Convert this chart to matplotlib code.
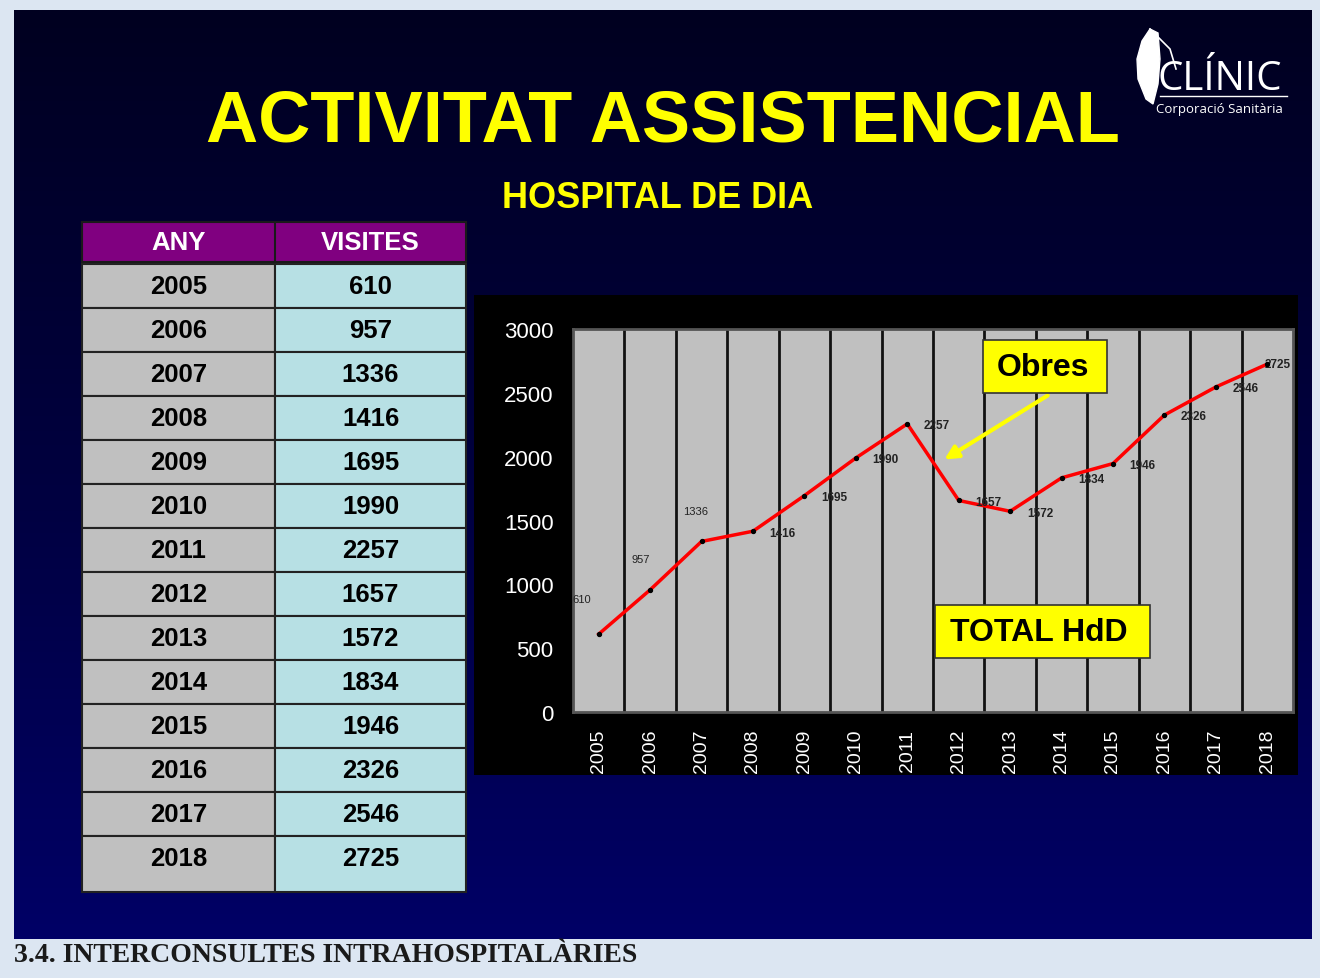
import numpy as np
import matplotlib.pyplot as plt
from matplotlib.patches import Rectangle, Polygon
from matplotlib.colors import LinearSegmentedColormap

plt.rcParams['font.family'] = ['Liberation Sans', 'DejaVu Sans']

# Dades
anys = ['2005', '2006', '2007', '2008', '2009', '2010', '2011',
        '2012', '2013', '2014', '2015', '2016', '2017', '2018']
visites = [610, 957, 1336, 1416, 1695, 1990, 2257,
           1657, 1572, 1834, 1946, 2326, 2546, 2725]
y_ticks = [0, 500, 1000, 1500, 2000, 2500, 3000]

W, H = 1320, 979
fig = plt.figure(figsize=(W / 100, H / 100), dpi=100)
fig.patch.set_facecolor('#dce6f2')


def pixel_axes(z):
    a = fig.add_axes([0, 0, 1, 1], zorder=z)
    a.set_xlim(0, W)
    a.set_ylim(H, 0)
    a.axis('off')
    a.patch.set_alpha(0)
    return a


# fons (coordenades en píxels)
bg = pixel_axes(0)
grad = np.linspace(0, 1, 256).reshape(-1, 1)
cmap = LinearSegmentedColormap.from_list('slide', ['#000020', '#00003f', '#000066'])
bg.imshow(grad, cmap=cmap, extent=[14, 1312, 940, 11], aspect='auto', zorder=0)

# títols
bg.text(663, 122, 'ACTIVITAT ASSISTENCIAL', color='#ffff00', fontsize=52,
        fontweight='bold', ha='center', va='center')
bg.text(658, 199, 'HOSPITAL DE DIA', color='#ffff00', fontsize=26,
        fontweight='bold', ha='center', va='center')

# logo
feather = Polygon([[1150, 30], [1158, 34], [1160, 60], [1158, 85], [1153, 105],
                   [1146, 100], [1138, 80], [1137, 60], [1142, 42]],
                  closed=True, facecolor='white', edgecolor='white', zorder=3)
bg.add_patch(feather)
bg.plot([1150, 1170, 1176], [30, 50, 70], color='white', lw=1.2)
bg.text(1158, 80, 'CLÍNIC', color='white', fontsize=29, ha='left', va='center',
        family=['Open Sans', 'DejaVu Sans'])
bg.plot([1160, 1287], [97, 97], color='white', lw=1)
bg.text(1156, 109, 'Corporació Sanitària', color='white', fontsize=9.5,
        ha='left', va='center', family=['Open Sans', 'DejaVu Sans'])

# taula
x0, xm, x1 = 82, 275, 466
bg.add_patch(Rectangle((x0, 223), x1 - x0, 40, facecolor='#800080',
                       edgecolor='#1a1a1a', lw=1.5, zorder=2))
bg.plot([xm, xm], [223, 263], color='#1a1a1a', lw=1.5, zorder=3)
bg.text((x0 + xm) / 2, 243, 'ANY', color='white', fontsize=18.5, fontweight='bold',
        ha='center', va='center', zorder=4)
bg.text((xm + x1) / 2, 243, 'VISITES', color='white', fontsize=18.5, fontweight='bold',
        ha='center', va='center', zorder=4)
top = 265
for i, (a, v) in enumerate(zip(anys, visites)):
    yt = top + i * 44
    h = 44 if i < len(anys) - 1 else 56
    bg.add_patch(Rectangle((x0, yt), xm - x0, h, facecolor='#c0c0c0',
                           edgecolor='#222222', lw=1.5, zorder=2))
    bg.add_patch(Rectangle((xm, yt), x1 - xm, h, facecolor='#b7e0e4',
                           edgecolor='#222222', lw=1.5, zorder=2))
    bg.text((x0 + xm) / 2, yt + 22, a, color='black', fontsize=18.5,
            fontweight='bold', ha='center', va='center', zorder=4)
    bg.text((xm + x1) / 2, yt + 22, str(v), color='black', fontsize=18.5,
            fontweight='bold', ha='center', va='center', zorder=4)

# panell del gràfic
bg.add_patch(Rectangle((474, 296), 824, 480, facecolor='black', zorder=1))

# text inferior
bg.text(14, 956, '3.4. INTERCONSULTES INTRAHOSPITALÀRIES', color='#1a1a1a',
        fontsize=20, fontweight='bold', ha='left', va='center',
        family=['Liberation Serif', 'DejaVu Serif'])

# gràfic
ax = fig.add_axes([573 / W, 1 - 713 / H, 720 / W, 383 / H], zorder=1)
ax.set_facecolor('#c0c0c0')
x = np.arange(len(anys))
ax.plot(x, visites, color='#ff0000', lw=2.5, zorder=3)
ax.scatter(x, visites, s=8, color='black', zorder=4)
for b in np.arange(0.5, len(anys) - 1, 1):
    ax.axvline(b, color='#111111', lw=2, zorder=1)
ax.set_xlim(-0.5, len(anys) - 0.5)
ax.set_ylim(0, 3000)
ax.set_yticks(y_ticks)
ax.set_xticks(x)
ax.set_xticklabels(anys, rotation=90)
ax.tick_params(axis='both', colors='white', length=0)
ax.tick_params(axis='y', pad=14, labelsize=16)
ax.tick_params(axis='x', pad=12, labelsize=14)
for s in ax.spines.values():
    s.set_color('#555555')
    s.set_linewidth(2)

for i, v in enumerate(visites):
    if i < 3:
        offs = [(-12, 25), (-7, 22), (-4, 22)][i]
        ax.annotate(str(v), (i, v), xytext=offs, textcoords='offset points',
                    fontsize=8, color='#222222', ha='center', va='center')
    elif i == len(visites) - 1:
        ax.annotate(str(v), (i, v), xytext=(-2, 0), textcoords='offset points',
                    fontsize=8.5, fontweight='bold', color='#222222',
                    ha='left', va='center')
    else:
        ax.annotate(str(v), (i, v), xytext=(12, -1), textcoords='offset points',
                    fontsize=8.5, fontweight='bold', color='#222222',
                    ha='left', va='center')

# anotacions (a sobre del gràfic)
ov = pixel_axes(2)
ov.annotate('', xy=(942, 462), xytext=(1050, 395),
            arrowprops=dict(arrowstyle='-|>', color='#ffff00', lw=3,
                            mutation_scale=20))
ov.add_patch(Rectangle((983, 341), 124, 53, facecolor='#ffff00',
                       edgecolor='#333333', lw=1.2, zorder=7))
ov.text(1043, 368, 'Obres', fontsize=23, fontweight='bold', color='black',
        ha='center', va='center', zorder=8)
ov.add_patch(Rectangle((935, 606), 215, 53, facecolor='#ffff00',
                       edgecolor='#333333', lw=1.2, zorder=7))
ov.text(1039, 633, 'TOTAL HdD', fontsize=23, fontweight='bold', color='black',
        ha='center', va='center', zorder=8)

fig.savefig('out.png', dpi=100, facecolor=fig.get_facecolor())
